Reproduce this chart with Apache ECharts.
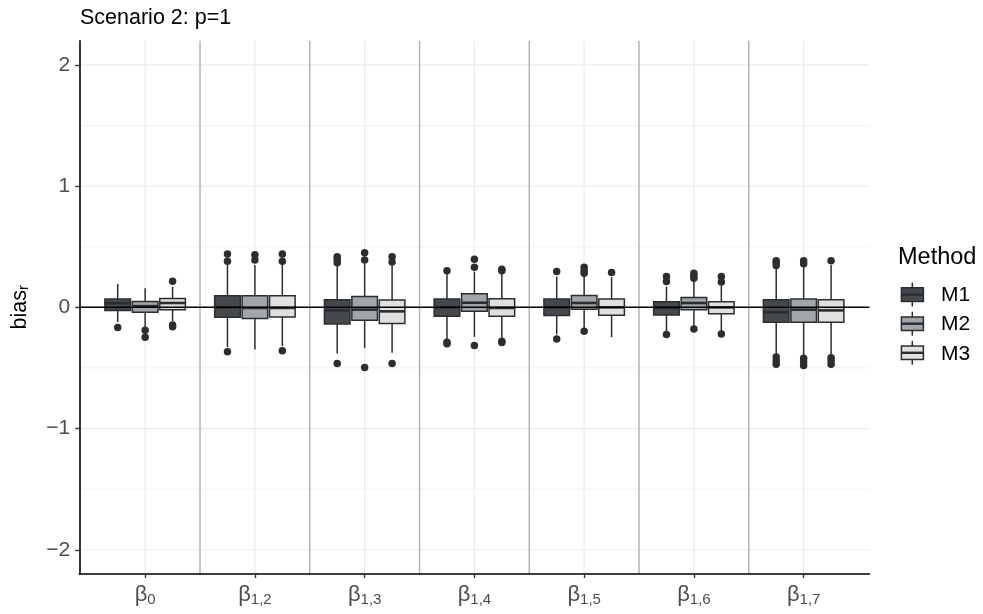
<!DOCTYPE html>
<html><head><meta charset="utf-8">
<script src="https://cdn.jsdelivr.net/npm/echarts@6/dist/echarts.min.js"></script>
<style>html,body{margin:0;padding:0;background:#fff}#c{width:983px;height:614px}</style>
</head><body><div id="c"></div>
<script>
// ---------- data ----------
const categorySubs = ['0', '1,2', '1,3', '1,4', '1,5', '1,6', '1,7'];
const methods = ['M1', 'M2', 'M3'];
// per category: [lowerWhisker, Q1, median, Q3, upperWhisker]
const statsM1 = [
  [-0.12, -0.025, 0.035, 0.068, 0.194],
  [-0.33, -0.082, 0.0, 0.096, 0.35],
  [-0.38, -0.137, -0.025, 0.063, 0.35],
  [-0.265, -0.074, 0.0, 0.068, 0.28],
  [-0.224, -0.068, 0.0, 0.068, 0.254],
  [-0.197, -0.063, -0.005, 0.046, 0.172],
  [-0.39, -0.123, -0.04, 0.063, 0.33]
];
const statsM2 = [
  [-0.17, -0.041, 0.01, 0.049, 0.158],
  [-0.347, -0.093, -0.005, 0.096, 0.35],
  [-0.336, -0.107, -0.019, 0.09, 0.36],
  [-0.243, -0.033, 0.038, 0.112, 0.295],
  [-0.17, -0.016, 0.036, 0.098, 0.26],
  [-0.156, -0.019, 0.036, 0.082, 0.213],
  [-0.40, -0.123, -0.019, 0.068, 0.345]
];
const statsM3 = [
  [-0.115, -0.019, 0.036, 0.074, 0.17],
  [-0.32, -0.08, -0.005, 0.096, 0.35],
  [-0.374, -0.134, -0.033, 0.06, 0.35],
  [-0.25, -0.074, -0.005, 0.071, 0.29],
  [-0.246, -0.066, 0.0, 0.068, 0.25],
  [-0.197, -0.052, 0.0, 0.046, 0.18],
  [-0.39, -0.123, -0.025, 0.063, 0.35]
];
const outliersM1 = [
  [-0.167],
  [0.44, 0.38, -0.366],
  [0.418, 0.396, 0.369, -0.464],
  [0.303, -0.287, -0.30],
  [0.295, -0.262],
  [0.254, 0.213, -0.224],
  [0.385, 0.37, 0.345, -0.41, -0.44, -0.47]
];
const outliersM2 = [
  [-0.189, -0.246],
  [0.434, 0.39],
  [0.45, 0.39, -0.497],
  [0.396, 0.33, -0.314],
  [0.33, 0.303, 0.281, -0.197],
  [0.281, 0.26, 0.24, -0.178],
  [0.385, 0.36, -0.42, -0.45, -0.48]
];
const outliersM3 = [
  [0.216, -0.145, -0.16],
  [0.44, 0.38, -0.358],
  [0.418, 0.374, -0.464],
  [0.314, 0.303, -0.279, -0.29],
  [0.287],
  [0.254, 0.21, -0.219],
  [0.385, -0.415, -0.44, -0.47]
];
const yMajorTicks = [-2, -1, 0, 1, 2];
const yMinorTicks = [-1.5, -0.5, 0.5, 1.5];
const xTicks = [1, 2, 3, 4, 5, 6, 7];
const separators = [1.5, 2.5, 3.5, 4.5, 5.5, 6.5];
const refLine = [0];

// ---------- style ----------
const FONT = '"Liberation Sans", Arial, Helvetica, sans-serif';
const X_MIN = 0.4, X_MAX = 7.6, Y_MIN = -2.2, Y_MAX = 2.2;
const dodge = [-0.25, 0, 0.25];
const boxW = 0.2333;
const fills = ['#46494c', '#a3a6a8', '#e0e0e0'];
const boxStroke = '#2b2e31';
const allStats = [statsM1, statsM2, statsM3];
const allOutliers = [outliersM1, outliersM2, outliersM3];

function hLineRender(color, width) {
  return function (params, api) {
    const v = api.value(0);
    const a = api.coord([X_MIN, v]), b = api.coord([X_MAX, v]);
    return { type: 'line', shape: { x1: a[0], y1: a[1], x2: b[0], y2: b[1] },
      style: { stroke: color, lineWidth: width } };
  };
}
function vLineRender(color, width) {
  return function (params, api) {
    const v = api.value(0);
    const a = api.coord([v, Y_MIN]), b = api.coord([v, Y_MAX]);
    return { type: 'line', shape: { x1: a[0], y1: a[1], x2: b[0], y2: b[1] },
      style: { stroke: color, lineWidth: width } };
  };
}
function makeBoxRender(mi) {
  return function (params, api) {
    const x = api.value(0) + dodge[mi];
    const lo = api.value(1), q1 = api.value(2), md = api.value(3), q3 = api.value(4), hi = api.value(5);
    const pHi = api.coord([x, hi]), pQ3 = api.coord([x, q3]), pMd = api.coord([x, md]);
    const pQ1 = api.coord([x, q1]), pLo = api.coord([x, lo]);
    const xl = api.coord([x - boxW / 2, md])[0], xr = api.coord([x + boxW / 2, md])[0];
    const st = { stroke: boxStroke, lineWidth: 1.5 };
    return { type: 'group', children: [
      { type: 'line', shape: { x1: pHi[0], y1: pHi[1], x2: pQ3[0], y2: pQ3[1] }, style: st },
      { type: 'line', shape: { x1: pQ1[0], y1: pQ1[1], x2: pLo[0], y2: pLo[1] }, style: st },
      { type: 'rect', shape: { x: xl, y: pQ3[1], width: xr - xl, height: pQ1[1] - pQ3[1] },
        style: { fill: fills[mi], stroke: boxStroke, lineWidth: 1.5 } },
      { type: 'line', shape: { x1: xl, y1: pMd[1], x2: xr, y2: pMd[1] },
        style: { stroke: boxStroke, lineWidth: 2.6 } }
    ] };
  };
}

const series = [];
series.push({ type: 'custom', name: 'minorY', z: 1, silent: true, clip: false,
  data: yMinorTicks.map(v => [v]), encode: { y: 0 }, renderItem: hLineRender('#ededed', 0.7) });
series.push({ type: 'custom', name: 'majorY', z: 1, silent: true, clip: false,
  data: yMajorTicks.map(v => [v]), encode: { y: 0 }, renderItem: hLineRender('#ebebeb', 1.2) });
series.push({ type: 'custom', name: 'majorX', z: 1, silent: true, clip: false,
  data: xTicks.map(v => [v]), encode: { x: 0 }, renderItem: vLineRender('#ebebeb', 1.2) });
series.push({ type: 'custom', name: 'sep', z: 1.5, silent: true, clip: false,
  data: separators.map(v => [v]), encode: { x: 0 }, renderItem: vLineRender('#b0b0b0', 1.4) });
methods.forEach((m, mi) => {
  series.push({ type: 'custom', name: m, z: 3, silent: true,
    data: allStats[mi].map((s, i) => [i + 1].concat(s)),
    encode: { x: 0, y: [1, 2, 3, 4, 5] }, renderItem: makeBoxRender(mi) });
  series.push({ type: 'scatter', name: m + ' outliers', z: 4, silent: true,
    symbol: 'circle', symbolSize: 7.5,
    itemStyle: { color: boxStroke, opacity: 1 },
    data: allOutliers[mi].flatMap((arr, i) => arr.map(v => [i + 1 + dodge[mi], v])) });
});
series.push({ type: 'custom', name: 'zero', z: 6, silent: true, clip: false,
  data: refLine.map(v => [v]), encode: { y: 0 }, renderItem: hLineRender('#000000', 1.5) });

// legend graphics
const legendGraphics = [
  { type: 'text', x: 898, y: 258, style: { text: 'Method', font: '23.5px ' + FONT, fill: '#000', align: 'left', verticalAlign: 'middle' } }
];
methods.forEach((m, mi) => {
  const cy = 294.6 + mi * 29.1;
  legendGraphics.push(
    { type: 'line', shape: { x1: 912.3, y1: cy - 12, x2: 912.3, y2: cy + 12 }, style: { stroke: boxStroke, lineWidth: 1.5 } },
    { type: 'rect', shape: { x: 901.4, y: cy - 6.8, width: 22, height: 13.6 }, style: { fill: fills[mi], stroke: boxStroke, lineWidth: 1.5 } },
    { type: 'line', shape: { x1: 901.4, y1: cy, x2: 923.4, y2: cy }, style: { stroke: boxStroke, lineWidth: 2.4 } },
    { type: 'text', x: 941, y: cy + 1, style: { text: m, font: '21px ' + FONT, fill: '#000', align: 'left', verticalAlign: 'middle' } }
  );
});

const chart = echarts.init(document.getElementById('c'), null, { renderer: 'canvas' });
chart.setOption({
  animation: false,
  backgroundColor: '#ffffff',
  grid: { left: 79.3, right: 113.5, top: 40.7, bottom: 40, containLabel: false, outerBoundsMode: 'none' },
  xAxis: {
    type: 'value', min: X_MIN, max: X_MAX, z: 10,
    axisLine: { show: true, onZero: false, lineStyle: { color: '#000', width: 1.6 } },
    axisTick: { show: true, customValues: xTicks, length: 4, lineStyle: { color: '#333', width: 1.4 } },
    splitLine: { show: false },
    axisLabel: {
      customValues: xTicks, margin: 9, color: '#4d4d4d', fontFamily: FONT,
      formatter: v => '{b|β}{s|' + categorySubs[Math.round(v) - 1] + '}',
      rich: {
        b: { fontSize: 22, lineHeight: 24, color: '#4d4d4d', fontFamily: FONT },
        s: { fontSize: 15, lineHeight: 12, verticalAlign: 'bottom', color: '#4d4d4d', fontFamily: FONT }
      }
    }
  },
  yAxis: {
    type: 'value', min: Y_MIN, max: Y_MAX, z: 10,
    axisLine: { show: true, onZero: false, lineStyle: { color: '#000', width: 1.6 } },
    axisTick: { show: true, customValues: yMajorTicks, length: 4, lineStyle: { color: '#333', width: 1.4 } },
    splitLine: { show: false },
    axisLabel: {
      customValues: yMajorTicks, margin: 9, fontSize: 21, color: '#4d4d4d', fontFamily: FONT,
      formatter: v => (v < 0 ? '\u2212' + Math.abs(v) : String(v))
    }
  },
  graphic: [
    { type: 'text', x: 80, y: 18.4, style: { text: 'Scenario 2: p=1', font: '21.5px ' + FONT, fill: '#000', align: 'left', verticalAlign: 'middle' } },
    { type: 'text', x: 19.8, y: 307.3, rotation: Math.PI / 2,
      style: { text: '{a|bias}{s|r}', align: 'center', verticalAlign: 'middle',
        rich: { a: { fontSize: 21.5, lineHeight: 24, fill: '#000', fontFamily: FONT },
                s: { fontSize: 15, lineHeight: 12, verticalAlign: 'bottom', fill: '#000', fontFamily: FONT } } } }
  ].concat(legendGraphics),
  series: series
});
</script>
</body></html>
